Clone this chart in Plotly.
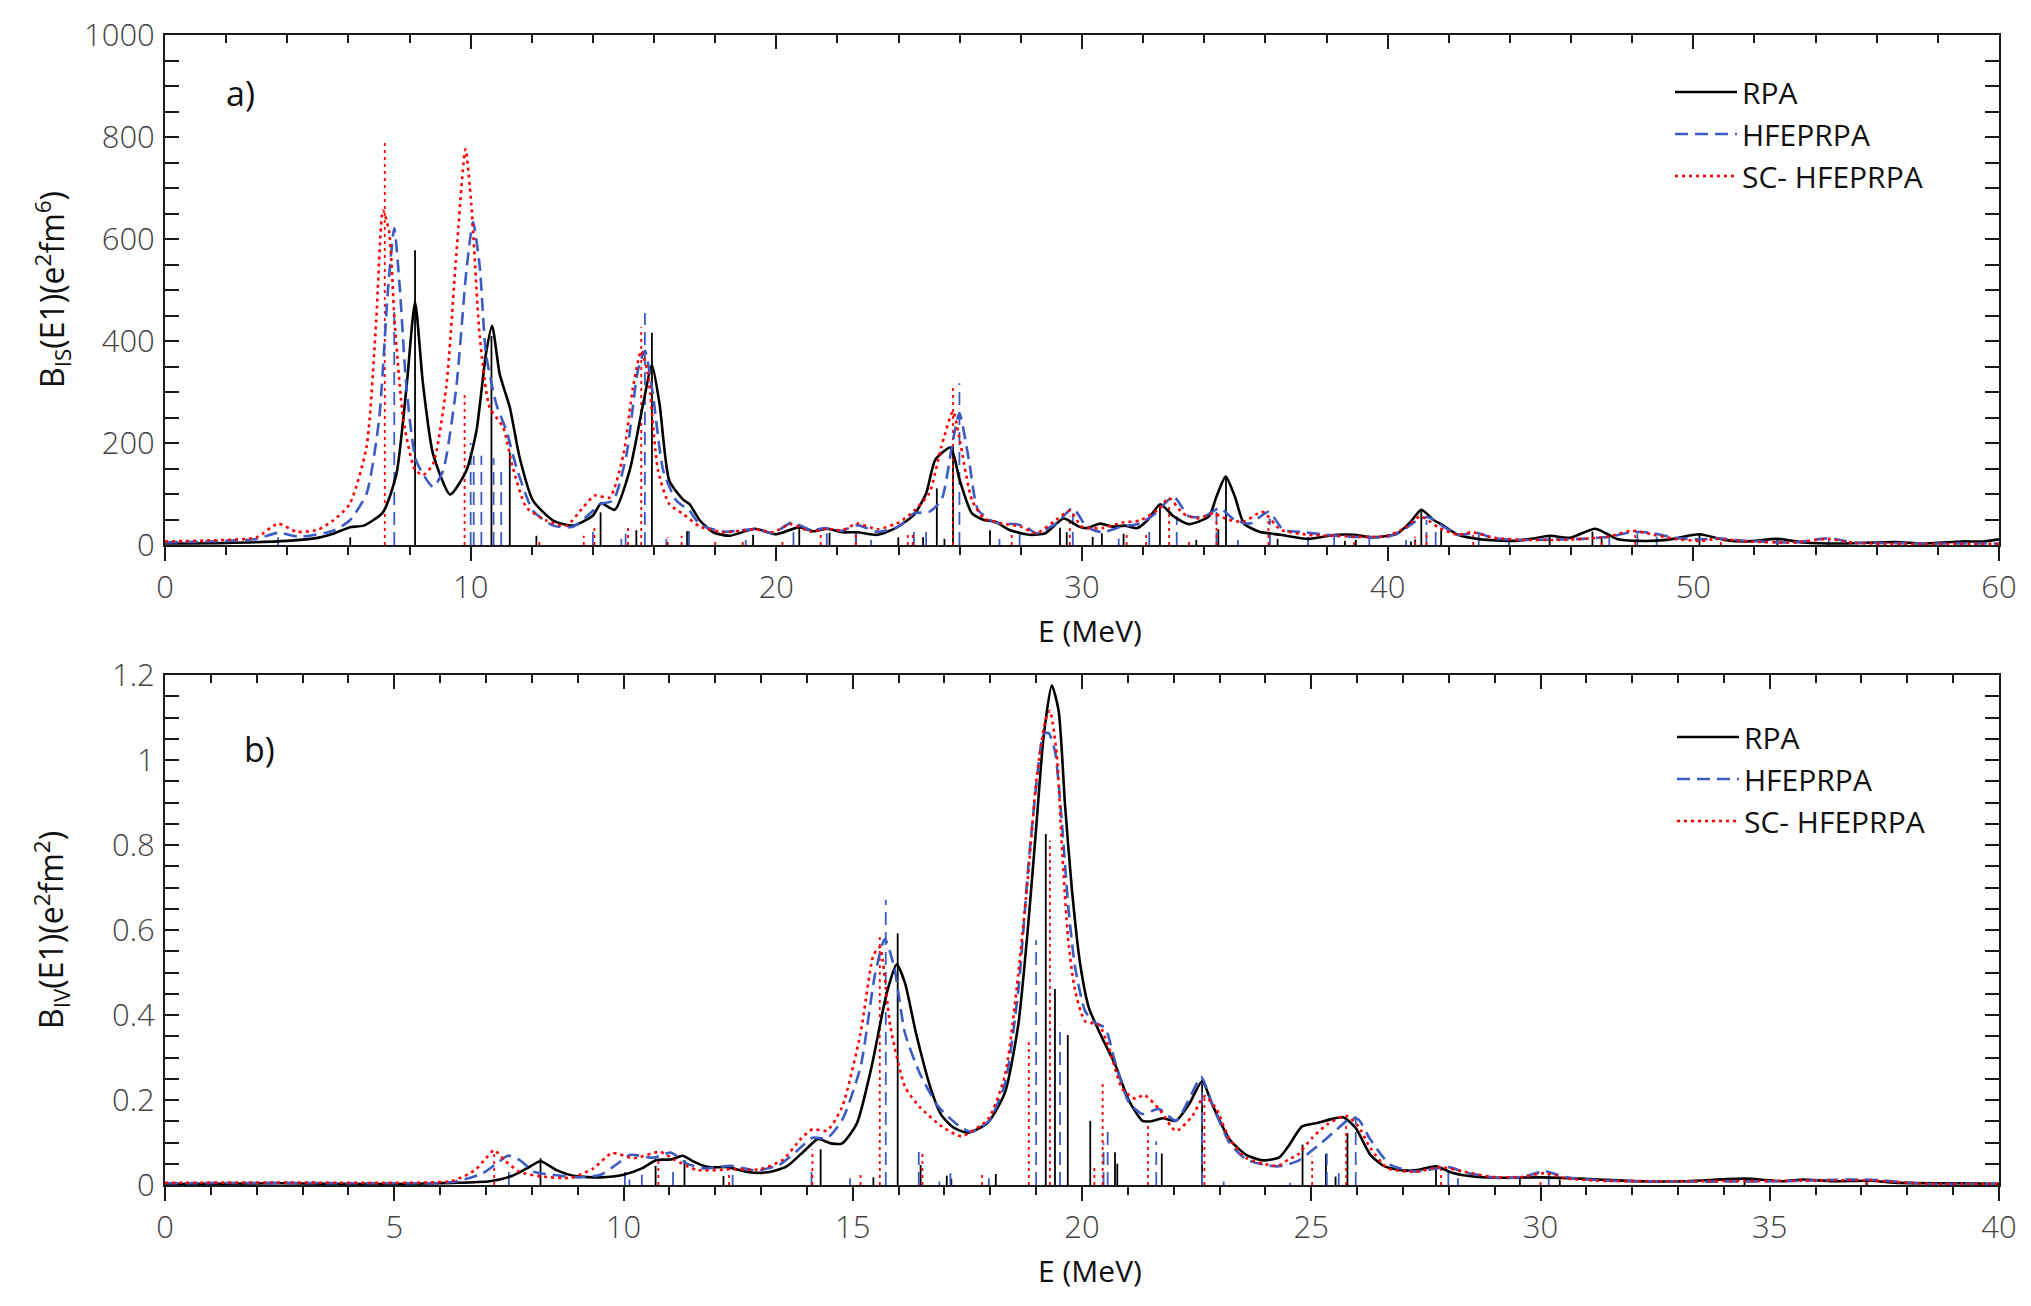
import plotly.graph_objects as go

# ---------------- DATA ----------------
# Panel a) isoscalar strength, B_IS(E1) in e^2 fm^6 ; (E [MeV], value)
rpa_a = [(0,3),(2,4),(4,8),(5.0,14),(5.5,22),(6.05,35),(6.5,38),(7.13,64),(7.57,139),(7.9,309),
         (8.18,476),(8.44,316),(8.77,178),(9.33,99),(9.86,146),(10.19,224),(10.5,375),(10.7,430),
         (10.95,335),(11.28,270),(11.6,172),(12.04,87),(12.7,48),(13.35,38),(14.0,58),(14.27,82),
         (14.71,69),(15.2,146),(15.64,276),(15.93,353),(16.18,276),(16.5,126),(16.95,89),(17.16,80),
         (17.5,48),(17.93,25),(18.47,18),(19.3,32),(20.0,21),(20.75,35),(21.2,27),(21.65,32),(22.15,25),
         (22.65,25),(23.3,20),(23.9,33),(24.5,59),(24.9,101),(25.2,167),(25.7,191),(26.0,127),(26.4,62),
         (26.8,49),(27.15,46),(27.65,29),(28.3,20),(28.8,23),(29.4,52),(29.9,36),(30.15,33),(30.6,42),
         (31.0,36),(31.4,38),(31.8,33),(32.15,49),(32.56,80),(33.0,56),(33.5,41),(34.15,56),(34.4,95),
         (34.7,134),(35.0,95),(35.3,42),(35.8,26),(36.5,20),(37.4,12),(38.3,20),(38.9,20),(39.5,15),
         (40.3,22),(40.76,46),(41.1,69),(41.5,49),(41.8,39),(42.3,20),(43.05,11),(44.1,8),(44.7,12),
         (45.3,18),(45.95,14),(46.8,32),(47.5,12),(48.25,8),(49.15,10),(50.2,21),(51.0,10),(51.75,7),
         (52.75,12),(53.6,5),(54.8,3),(56.6,6),(57.5,3),(58.8,7),(59.5,7),(60,11)]
hfe_a = [(0,5),(2,8),(3.0,12),(3.7,24),(4.4,16),(5.5,28),(6.04,48),(6.59,100),(7.0,244),(7.3,505),
         (7.5,621),(7.68,505),(7.9,309),(8.22,165),(8.77,114),(9.1,146),(9.53,309),(9.86,538),(10.08,633),
         (10.3,544),(10.5,375),(10.84,276),(11.17,224),(11.5,152),(12.04,67),(12.7,38),(13.35,36),(14.0,67),
         (14.22,80),(14.66,87),(15.1,178),(15.47,342),(15.7,381),(15.96,296),(16.3,146),(16.73,87),
         (17.16,67),(17.5,40),(18.3,26),(19.3,31),(19.9,23),(20.5,44),(21.15,29),(21.6,33),(22.15,28),
         (22.65,39),(23.3,26),(24.0,36),(24.5,62),(25.0,65),(25.4,88),(25.78,206),(25.99,258),(26.3,167),
         (26.6,69),(27.15,44),(27.8,41),(28.15,36),(28.5,23),(29.15,42),(29.7,72),(30.15,36),(30.65,25),
         (31.3,36),(31.9,42),(32.4,62),(32.99,95),(33.5,56),(34.0,56),(34.5,72),(35.0,49),(35.5,42),
         (36.1,65),(36.6,29),(37.1,26),(38.0,20),(38.9,16),(40.0,16),(40.6,33),(41.07,52),(41.35,54),
         (41.8,37),(42.3,20),(42.9,24),(43.5,13),(44.4,10),(45.65,11),(46.4,12),(47.2,16),(48.1,26),
         (48.7,23),(49.4,14),(50.2,11),(50.8,13),(51.75,8),(53.3,5),(54.4,13),(55.3,5),(57.9,3),(60,3)]
sch_a = [(0,7),(2,10),(3.0,15),(3.7,42),(4.3,26),(5.0,30),(5.5,48),(6.04,80),(6.59,191),(6.91,440),
         (7.13,656),(7.33,616),(7.51,440),(7.8,244),(8.17,149),(8.44,137),(8.77,159),(9.2,309),(9.53,570),
         (9.83,776),(10.02,669),(10.3,407),(10.62,270),(11.06,231),(11.38,152),(11.82,74),(12.48,48),
         (13.13,38),(13.68,74),(14.06,97),(14.55,93),(15.0,178),(15.31,309),(15.58,381),(15.8,335),
         (16.13,146),(16.5,80),(16.95,61),(17.5,36),(18.3,25),(19.3,31),(19.9,25),(20.46,41),(21.15,26),
         (21.65,32),(22.15,29),(22.65,42),(23.3,31),(24.0,44),(24.5,67),(25.0,101),(25.4,193),(25.78,262),
         (26.0,206),(26.4,88),(26.8,52),(27.4,42),(28.0,36),(28.5,23),(29.15,49),(29.6,67),(30.0,36),
         (30.65,33),(31.3,44),(31.9,48),(32.5,70),(32.85,92),(33.3,62),(33.8,52),(34.3,62),(34.8,49),
         (35.3,46),(35.9,65),(36.5,30),(37.4,20),(38.3,18),(39.2,16),(40.0,18),(40.6,35),(41.07,56),
         (41.7,33),(42.3,20),(42.75,25),(43.5,14),(44.4,10),(45.6,10),(46.4,12),(47.2,16),(48.0,28),
         (48.7,20),(49.4,12),(50.2,8),(50.8,12),(51.75,7),(53.3,5),(54.4,12),(55.3,4),(60,2)]

# discrete transition strengths (sticks), panel a)
rpa_a_sticks = [(6.06,15),(8.18,578),(10.68,410),(11.28,182),(12.15,18),(14.25,64),(15.42,29),(15.93,416),
                (17.08,27),(17.13,27),(19.24,20),(20.75,34),(21.74,24),(22.6,23),(23.99,15),(24.8,15),
                (25.25,111),(25.5,12),(25.78,193),(26.99,29),(29.28,34),(29.5,25),(30.35,16),(30.65,23),
                (31.36,22),(32.55,80),(33.74,10),(34.46,31),(34.71,134),(36.4,12),(38.6,8),(38.96,10),
                (40.76,7),(40.9,11),(41.1,69),(41.75,29),(45.3,18),(46.7,26),(47.0,12),(50.2,20),(52.75,11)]
hfe_a_sticks = [(3.7,15),(7.5,470),(10.0,200),(10.1,175),(10.35,175),(10.75,170),(11.0,150),(14.0,28),
                (14.93,12),(15.07,22),(15.7,455),(16.4,12),(17.13,27),(19.0,10),(20.56,29),(21.65,23),
                (22.6,24),(23.1,10),(24.5,29),(24.9,29),(25.99,317),(27.3,12),(27.96,23),(29.7,62),(31.2,13),
                (32.2,26),(33.1,56),(34.4,69),(35.1,10),(36.15,52),(37.4,16),(38.25,20),(39.4,16),(40.6,10),
                (41.27,49),(41.57,29),(42.98,23),(43.97,10),(47.25,20),(48.17,23),(48.8,16),(54.43,12)]
sch_a_sticks = [(7.19,790),(9.8,300),(12.25,10),(13.7,18),(14.05,35),(15.15,36),(15.58,427),(16.45,15),
                (16.9,18),(18.0,10),(18.9,8),(20.2,6),(21.45,23),(22.6,20),(24.3,20),(24.46,23),(25.78,315),
                (27.7,23),(29.6,56),(31.46,23),(32.1,23),(32.85,78),(33.5,10),(34.4,70),(36.1,56),(38.9,8),
                (40.9,16),(41.27,23),(42.8,20),(47.0,10),(48.1,20),(50.9,8)]

# Panel b) isovector strength, B_IV(E1) in e^2 fm^2
rpa_b = [(0,0.002),(2.5,0.004),(4.65,0.002),(6.27,0.005),(7.08,0.009),(7.56,0.021),(7.89,0.039),(8.19,0.056),
         (8.54,0.035),(8.94,0.021),(9.5,0.018),(10.0,0.024),(10.4,0.039),(10.72,0.059),(11.04,0.060),
         (11.29,0.069),(11.53,0.055),(11.85,0.042),(12.26,0.042),(12.74,0.030),(13.15,0.030),(13.55,0.043),
         (13.96,0.082),(14.24,0.108),(14.52,0.098),(14.77,0.098),(15.09,0.145),(15.41,0.278),(15.74,0.451),
         (15.96,0.519),(16.14,0.475),(16.38,0.357),(16.71,0.224),(16.93,0.165),(17.2,0.135),(17.51,0.123),
         (17.95,0.147),(18.32,0.218),(18.61,0.377),(18.83,0.616),(19.01,0.854),(19.16,1.052),(19.34,1.176),
         (19.49,1.116),(19.63,0.894),(19.78,0.695),(19.96,0.520),(20.15,0.417),(20.44,0.346),(20.73,0.282),
         (21.02,0.199),(21.32,0.151),(21.5,0.150),(21.76,0.157),(22.05,0.151),(22.34,0.191),(22.62,0.244),
         (22.85,0.187),(23.22,0.107),(23.58,0.071),(23.95,0.058),(24.3,0.065),(24.5,0.091),(24.8,0.138),
         (25.13,0.146),(25.44,0.155),(25.71,0.159),(25.97,0.134),(26.29,0.071),(26.6,0.044),(27.03,0.034),
         (27.35,0.036),(27.72,0.044),(28.09,0.028),(28.62,0.019),(29.26,0.017),(30.0,0.018),(30.64,0.016),
         (31.27,0.013),(32.12,0.009),(33.18,0.009),(34.45,0.015),(35.3,0.009),(35.72,0.013),(36.36,0.009),
         (37.2,0.010),(37.84,0.005),(39.0,0.004),(40,0.003)]
hfe_b = [(0,0.004),(2.5,0.005),(4.65,0.004),(6.27,0.007),(6.92,0.027),(7.24,0.051),(7.48,0.069),(7.73,0.059),
         (8.05,0.031),(8.45,0.024),(9.02,0.018),(9.5,0.024),(9.83,0.047),(10.15,0.071),(10.64,0.064),
         (11.04,0.076),(11.37,0.051),(11.77,0.039),(12.34,0.045),(12.9,0.034),(13.39,0.047),(13.8,0.082),
         (14.12,0.111),(14.44,0.110),(14.77,0.153),(15.17,0.278),(15.49,0.498),(15.7,0.579),(15.9,0.514),
         (16.14,0.357),(16.46,0.263),(16.87,0.184),(17.34,0.137),(17.6,0.125),(17.97,0.151),(18.32,0.238),
         (18.61,0.457),(18.83,0.751),(19.01,0.949),(19.16,1.060),(19.27,1.064),(19.41,1.021),(19.56,0.854),
         (19.7,0.655),(19.85,0.512),(20.07,0.409),(20.29,0.381),(20.51,0.369),(20.7,0.298),(21.02,0.195),
         (21.32,0.167),(21.68,0.179),(22.05,0.151),(22.34,0.203),(22.6,0.254),(22.85,0.187),(23.22,0.099),
         (23.58,0.060),(23.95,0.048),(24.28,0.044),(24.7,0.056),(25.13,0.091),(25.55,0.130),(25.87,0.158),
         (26.03,0.154),(26.29,0.107),(26.72,0.048),(27.25,0.032),(27.99,0.042),(28.41,0.028),(29.15,0.016),
         (29.63,0.020),(30.1,0.032),(30.53,0.019),(31.27,0.011),(33.18,0.008),(35.3,0.009),(37.1,0.013),
         (38.4,0.003),(40,0.002)]
sch_b = [(0,0.005),(2.5,0.006),(4.65,0.005),(6.27,0.010),(6.76,0.035),(7.0,0.063),(7.18,0.082),(7.4,0.059),
         (7.73,0.031),(8.21,0.020),(8.86,0.017),(9.34,0.039),(9.75,0.075),(10.23,0.063),(10.8,0.078),
         (11.12,0.059),(11.61,0.035),(12.34,0.037),(12.98,0.037),(13.47,0.059),(13.88,0.110),(14.12,0.131),
         (14.44,0.128),(14.77,0.184),(15.17,0.357),(15.45,0.540),(15.59,0.560),(15.82,0.373),(16.14,0.231),
         (16.46,0.184),(16.95,0.137),(17.37,0.115),(17.95,0.155),(18.32,0.258),(18.61,0.496),(18.83,0.735),
         (19.01,0.957),(19.2,1.092),(19.3,1.116),(19.45,1.013),(19.56,0.798),(19.7,0.576),(19.85,0.457),
         (20.07,0.385),(20.37,0.377),(20.59,0.322),(20.88,0.226),(21.17,0.203),(21.35,0.212),(21.68,0.179),
         (22.05,0.127),(22.41,0.163),(22.67,0.209),(22.93,0.179),(23.22,0.107),(23.58,0.064),(23.95,0.050),
         (24.28,0.045),(24.5,0.060),(24.7,0.071),(25.02,0.111),(25.34,0.142),(25.76,0.163),(26.03,0.138),
         (26.29,0.087),(26.66,0.040),(27.25,0.031),(27.83,0.042),(28.3,0.032),(28.94,0.019),(29.58,0.019),
         (30.1,0.028),(30.53,0.016),(31.27,0.010),(33.18,0.009),(35.3,0.010),(37.1,0.011),(38.4,0.003),(40,0.002)]

rpa_b_sticks = [(8.19,0.063),(10.7,0.045),(11.33,0.059),(12.18,0.021),(14.3,0.084),(15.45,0.018),(15.98,0.592),
                (16.48,0.047),(17.05,0.022),(17.15,0.015),(18.12,0.026),(19.21,0.826),(19.41,0.461),(19.69,0.353),
                (20.18,0.151),(20.72,0.077),(20.77,0.05),(21.74,0.074),(22.62,0.242),(24.81,0.095),(25.32,0.073),
                (25.53,0.020),(25.79,0.122),(27.72,0.045),(29.55,0.014),(30.42,0.013),(34.45,0.009)]
hfe_b_sticks = [(7.5,0.031),(10.03,0.031),(10.13,0.013),(10.4,0.024),(11.08,0.031),(12.38,0.024),(14.1,0.031),
                (14.94,0.016),(15.72,0.671),(16.44,0.082),(16.89,0.008),(17.13,0.028),(17.97,0.016),(19.0,0.576),
                (19.52,0.377),(20.47,0.099),(20.56,0.131),(21.62,0.103),(22.62,0.254),(23.09,0.008),(24.54,0.005),
                (25.34,0.075),(25.6,0.028),(25.97,0.162),(27.99,0.036),(28.2,0.016),(30.18,0.028),(37.13,0.01)]
sch_b_sticks = [(7.18,0.082),(10.76,0.063),(12.3,0.024),(14.12,0.084),(15.17,0.024),(15.59,0.592),(16.52,0.082),
                (17.82,0.024),(18.84,0.338),(19.3,0.810),(20.27,0.048),(20.45,0.242),(21.44,0.143),(22.67,0.210),
                (25.02,0.067),(25.76,0.165),(27.83,0.040),(30.0,0.01),(37.1,0.01)]

series_names = ["RPA", "HFEPRPA", "SC- HFEPRPA"]
x_range_a, y_range_a = [0, 60], [0, 1000]
x_range_b, y_range_b = [0, 40], [0, 1.2]

# ---------------- STYLE ----------------
FONT = "Open Sans"
styles = [dict(color="#000000", dash="solid"),
          dict(color="#3b5cc4", dash="13px,7px"),
          dict(color="#ff0000", dash="3px,4px")]
CURVE_W, STICK_W = 2.6, 1.8

fig = go.Figure()

def add_panel(curves, sticks, xa, ya, legend):
    for i, stk in enumerate(sticks):
        st = styles[i]
        sx, sy = [], []
        for e, h in stk:
            sx += [e, e, None]
            sy += [0, h, None]
        fig.add_trace(go.Scatter(x=sx, y=sy, mode="lines", xaxis=xa, yaxis=ya,
                                 line=dict(color=st["color"], dash=st["dash"], width=STICK_W),
                                 showlegend=False, hoverinfo="skip"))
    for i, pts in enumerate(curves):
        st = styles[i]
        fig.add_trace(go.Scatter(x=[p[0] for p in pts], y=[p[1] for p in pts], mode="lines",
                                 xaxis=xa, yaxis=ya, name=series_names[i], legend=legend,
                                 line=dict(color=st["color"], dash=st["dash"], width=CURVE_W,
                                           shape="spline", smoothing=0.6)))

add_panel([rpa_a, hfe_a, sch_a], [rpa_a_sticks, hfe_a_sticks, sch_a_sticks], "x", "y", "legend")
add_panel([rpa_b, hfe_b, sch_b], [rpa_b_sticks, hfe_b_sticks, sch_b_sticks], "x2", "y2", "legend2")
# helper (empty) traces so that the top tick-only axes exist
fig.add_trace(go.Scatter(x=[None], y=[None], xaxis="x3", yaxis="y", showlegend=False, hoverinfo="skip"))
fig.add_trace(go.Scatter(x=[None], y=[None], xaxis="x4", yaxis="y2", showlegend=False, hoverinfo="skip"))

AX = "#1a1a1a"
tickfont = dict(family=FONT, size=31, color="#444444", weight=300)

def xbottom(rng, dt, mdt, anchor):
    return dict(range=rng, dtick=dt, tick0=0, ticks="outside", ticklen=14, tickwidth=2, tickcolor=AX,
                minor=dict(dtick=mdt, tick0=0, ticks="outside", ticklen=8, tickwidth=1.6, tickcolor=AX),
                showline=True, linecolor=AX, linewidth=2, mirror=True, showgrid=False, zeroline=False,
                tickfont=tickfont, anchor=anchor, ticklabelstandoff=0)

def xtop(rng, dt, mdt, over, anchor):
    return dict(range=rng, dtick=dt, tick0=0, ticks="inside", ticklen=14, tickwidth=2, tickcolor=AX,
                minor=dict(dtick=mdt, tick0=0, ticks="inside", ticklen=8, tickwidth=1.6, tickcolor=AX),
                showline=False, showgrid=False, zeroline=False, showticklabels=False,
                overlaying=over, side="top", anchor=anchor)

def yax(rng, dt, mdt, dom, anchor):
    return dict(range=rng, dtick=dt, tick0=0, ticks="inside", ticklen=14, tickwidth=2, tickcolor=AX,
                minor=dict(dtick=mdt, tick0=0, ticks="inside", ticklen=8, tickwidth=1.6, tickcolor=AX),
                showline=True, linecolor=AX, linewidth=2, mirror="allticks", showgrid=False,
                zeroline=False, tickfont=tickfont, domain=dom, anchor=anchor, ticklabelstandoff=2)

L, R, T, B = 165, 32, 35, 121
W, H = 2031, 1306
PW, PH = W - L - R, H - T - B
px = lambda xp: (xp - L) / PW
py = lambda yp: (H - B - yp) / PH

legend_font = dict(family=FONT, size=30, color="#111111")
fig.update_layout(
    width=W, height=H, margin=dict(l=L, r=R, t=T, b=B),
    paper_bgcolor="white", plot_bgcolor="white",
    font=dict(family=FONT, size=29, color="#222222"),
    xaxis=xbottom(x_range_a, 10, 2, "y"),
    yaxis=yax(y_range_a, 200, 50, [py(545), 1.0], "x"),
    xaxis2=xbottom(x_range_b, 5, 1, "y2"),
    yaxis2=yax(y_range_b, 0.2, 0.05, [0.0, py(675)], "x2"),
    xaxis3=xtop(x_range_a, 10, 2, "x", "y"),
    xaxis4=xtop(x_range_b, 5, 1, "x2", "y2"),
    legend=dict(x=px(1670), y=py(66), xanchor="left", yanchor="top", bgcolor="rgba(0,0,0,0)",
                font=legend_font, itemwidth=62, tracegroupgap=0),
    legend2=dict(x=px(1672), y=py(711), xanchor="left", yanchor="top", bgcolor="rgba(0,0,0,0)",
                 font=legend_font, itemwidth=62, tracegroupgap=0),
    showlegend=True,
)

ann = [
    dict(text="a)", x=px(240), y=py(93), size=34),
    dict(text="b)", x=px(259), y=py(749), size=34),
    dict(text="E (MeV)", x=px(1090), y=py(630), size=30),
    dict(text="E (MeV)", x=px(1090), y=py(1270), size=30),
    dict(text="B<sub>IS</sub>(E1)(e<sup>2</sup>fm<sup>6</sup>)", x=px(52), y=py(290), textangle=-90, size=32),
    dict(text="B<sub>IV</sub>(E1)(e<sup>2</sup>fm<sup>2</sup>)", x=px(52), y=py(930), textangle=-90, size=32),
]
for a in ann:
    size = a.pop("size")
    fig.add_annotation(xref="paper", yref="paper", showarrow=False, xanchor="center", yanchor="middle",
                       font=dict(family=FONT, size=size, color="#111111"), **a)

fig.write_html("out.html")
